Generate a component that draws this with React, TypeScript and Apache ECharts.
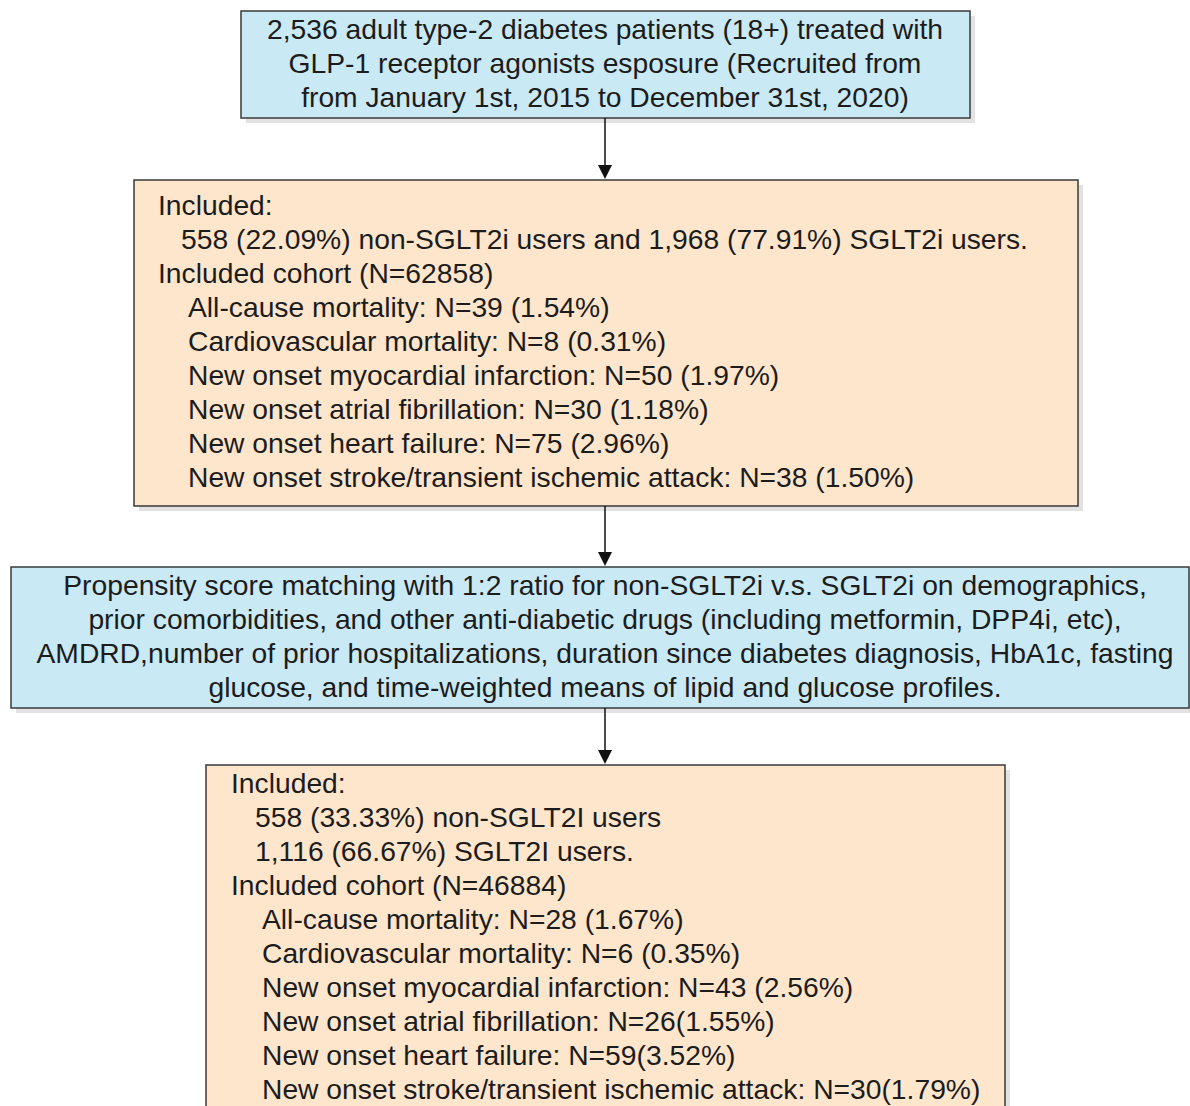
import React, { useEffect, useRef } from "react";
import * as echarts from "echarts";

const box1Lines = [
  "2,536 adult type-2 diabetes patients (18+) treated with",
  "GLP-1 receptor agonists esposure (Recruited from",
  "from January 1st, 2015 to December 31st, 2020)",
];

const box2Lines = [
  { t: "Included:", indent: 0 },
  { t: "558 (22.09%) non-SGLT2i users and 1,968 (77.91%) SGLT2i users.", indent: 1 },
  { t: "Included cohort (N=62858)", indent: 0 },
  { t: "All-cause mortality: N=39 (1.54%)", indent: 2 },
  { t: "Cardiovascular mortality: N=8 (0.31%)", indent: 2 },
  { t: "New onset myocardial infarction: N=50 (1.97%)", indent: 2 },
  { t: "New onset atrial fibrillation: N=30 (1.18%)", indent: 2 },
  { t: "New onset heart failure: N=75 (2.96%)", indent: 2 },
  { t: "New onset stroke/transient ischemic attack: N=38 (1.50%)", indent: 2 },
];

const box3Lines = [
  "Propensity score matching with 1:2 ratio for non-SGLT2i v.s. SGLT2i on demographics,",
  "prior comorbidities, and other anti-diabetic drugs (including metformin, DPP4i, etc),",
  "AMDRD,number of prior hospitalizations, duration since diabetes diagnosis, HbA1c, fasting",
  "glucose, and time-weighted means of lipid and glucose profiles.",
];

const box4Lines = [
  { t: "Included:", indent: 0 },
  { t: "558 (33.33%) non-SGLT2I users", indent: 1 },
  { t: "1,116 (66.67%) SGLT2I users.", indent: 1 },
  { t: "Included cohort (N=46884)", indent: 0 },
  { t: "All-cause mortality: N=28 (1.67%)", indent: 2 },
  { t: "Cardiovascular mortality: N=6 (0.35%)", indent: 2 },
  { t: "New onset myocardial infarction: N=43 (2.56%)", indent: 2 },
  { t: "New onset atrial fibrillation: N=26(1.55%)", indent: 2 },
  { t: "New onset heart failure: N=59(3.52%)", indent: 2 },
  { t: "New onset stroke/transient ischemic attack: N=30(1.79%)", indent: 2 },
];

const BLUE = "#c9e9f5";
const PEACH = "#fde6cc";
const BORDER = "#3a3a3a";
const TEXT = "#1c1c1c";
const FONT = '27px "Liberation Sans", Arial, sans-serif';
const SX = 1.047;
const LH = 34;

function boxEls(x: number, y: number, w: number, h: number, fill: string) {
  return [
    { type: "rect", shape: { x: x + 5, y: y + 5, width: w, height: h }, style: { fill: "#e2e2e2" }, silent: true },
    { type: "rect", shape: { x, y, width: w, height: h }, style: { fill, stroke: BORDER, lineWidth: 1.5 }, silent: true },
  ];
}

function centerText(lines: string[], cx: number, y0: number) {
  return lines.map((t, i) => ({
    type: "text",
    x: cx,
    y: y0 + i * LH,
    scaleX: SX,
    style: { text: t, x: 0, y: 0, font: FONT, fill: TEXT, align: "center", verticalAlign: "middle" },
    silent: true,
  }));
}

function leftText(lines: { t: string; indent: number }[], xs: number[], y0: number) {
  return lines.map((l, i) => ({
    type: "text",
    x: xs[l.indent],
    y: y0 + i * LH,
    scaleX: SX,
    style: { text: l.t, x: 0, y: 0, font: FONT, fill: TEXT, align: "left", verticalAlign: "middle" },
    silent: true,
  }));
}

function arrow(x: number, y1: number, y2: number) {
  return [
    { type: "line", shape: { x1: x, y1, x2: x, y2: y2 - 12 }, style: { stroke: "#111", lineWidth: 1.5 }, silent: true },
    { type: "polygon", shape: { points: [[x - 7, y2 - 14], [x + 7, y2 - 14], [x, y2]] }, style: { fill: "#111" }, silent: true },
  ];
}

export default function App() {
  const ref = useRef<HTMLDivElement>(null);
  useEffect(() => {
    document.body.style.margin = "0";
    const chart = echarts.init(ref.current!, null, { renderer: "svg" });
    const elements: any[] = [
      ...boxEls(241, 11, 729, 107, BLUE),
      ...centerText(box1Lines, 605, 30),
      ...arrow(605, 118, 179),
      ...boxEls(134, 180, 944, 326, PEACH),
      ...leftText(box2Lines, [158, 181, 188], 206),
      ...arrow(605, 506, 566),
      ...boxEls(11, 567, 1178, 141, BLUE),
      ...centerText(box3Lines, 605, 586),
      ...arrow(605, 708, 764),
      ...boxEls(206, 765, 799, 360, PEACH),
      ...leftText(box4Lines, [231, 255, 262], 784),
    ];
    chart.setOption({ animation: false, graphic: { elements } });
    return () => chart.dispose();
  }, []);
  return <div ref={ref} style={{ width: 1190, height: 1106, background: "#fff" }} />;
}
